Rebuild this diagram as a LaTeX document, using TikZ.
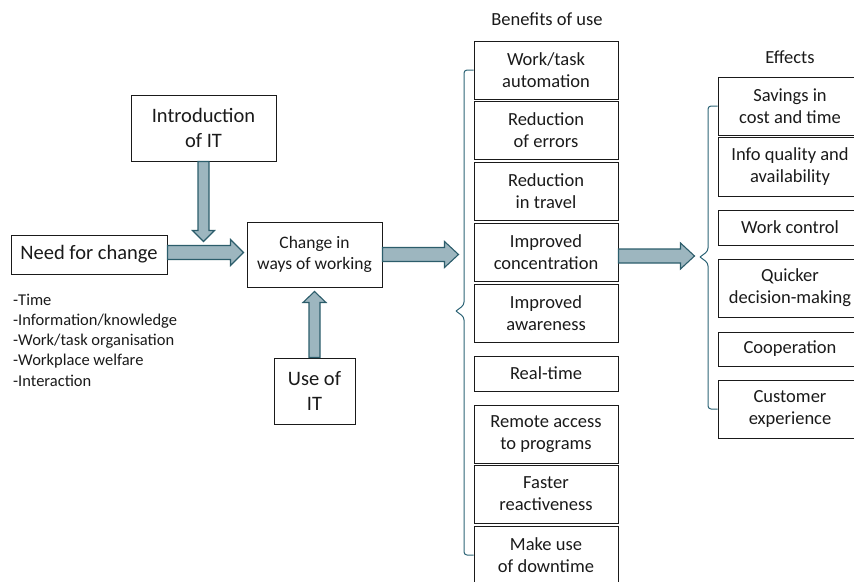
\documentclass[tikz,border=0pt]{standalone}
\usepackage{fontspec}
\setmainfont{Carlito}
\usetikzlibrary{calc}
\definecolor{arrowfill}{HTML}{9DB6BF}
\definecolor{arrowedge}{HTML}{2C5D6B}
\definecolor{bracecol}{HTML}{2E6577}
\definecolor{ink}{HTML}{1A1A1A}
% box with corners (x1,y1)-(x2,y2), in pixel-like units
\newcommand{\bx}[7][]{%
  \node[box, #1, minimum width={(#5-#3)*1pt}, minimum height={(#6-#4)*1pt}]
    (#2) at ({(#3+#5)/2},{(#4+#6)/2}) {#7};}
\begin{document}
\begin{tikzpicture}[x=1pt, y=-1pt,
  box/.style={draw=ink, line width=1pt, inner sep=0pt, align=center, text=ink},
  big/.style={font=\fontsize{20.5}{24.5}\selectfont},
  mid/.style={font=\fontsize{18.5}{22}\selectfont},
  small/.style={font=\fontsize{17.5}{21}\selectfont},
  fat/.style={draw=arrowedge, fill=arrowfill, line width=1.1pt, line join=miter},
  brace/.style={draw=bracecol, line width=1pt, rounded corners=3pt}]
\useasboundingbox (0,0) rectangle (854,581);

% left part
\bx[big]{intro}{131}{95}{276}{161}{Introduction\\of IT}
\bx[big]{need}{11}{235}{167}{274}{Need for change}
\bx[small]{change}{247}{222}{382}{287}{Change in\\ways of working}
\bx[big]{use}{274}{358}{355}{424}{Use of\\IT}
\node[anchor=west, align=left, inner sep=0pt, text=ink,
  font=\fontsize{16.5}{20.2}\selectfont] (list) at (13,340)
  {-Time\\-Information/knowledge\\-Work/task organisation\\-Workplace welfare\\-Interaction};

% benefits column
\node[mid, text=ink] (bentitle) at (547,19) {Benefits of use};
\bx[mid]{b1}{474}{41}{618}{99}{Work/task\\automation}
\bx[mid]{b2}{474}{101}{618}{159}{Reduction\\of errors}
\bx[mid]{b3}{474}{162}{618}{220}{Reduction\\in travel}
\bx[mid]{b4}{474}{223}{618}{281}{Improved\\concentration}
\bx[mid]{b5}{474}{284}{618}{342}{Improved\\awareness}
\bx[mid]{b6}{474}{356}{618}{391}{Real-time}
\bx[mid]{b7}{474}{405}{618}{463}{Remote access\\to programs}
\bx[mid]{b8}{474}{465}{618}{523}{Faster\\reactiveness}
\bx[mid]{b9}{474}{526}{618}{584}{Make use\\of downtime}

% effects column
\node[mid, text=ink] (efftitle) at (790,57) {Effects};
\bx[mid]{e1}{718}{77}{862}{135}{Savings in\\cost and time}
\bx[mid]{e2}{718}{137}{862}{196}{Info quality and\\availability}
\bx[mid]{e3}{718}{210}{862}{245}{Work control}
\bx[mid]{e4}{718}{259}{862}{317}{Quicker\\decision-making}
\bx[mid]{e5}{718}{332}{862}{366}{Cooperation}
\bx[mid]{e6}{718}{380}{862}{438}{Customer\\experience}

% block arrows (vertical: shaft 11, head 23 wide; horizontal: shaft 14, head 26 wide)
\draw[fat] (intro.south) ++(-5.5,0) -- ++(0,69) -- ++(-5.5,0) -- ++(11,11)
  -- ++(11,-11) -- ++(-5.5,0) -- ++(0,-69) -- cycle;
\draw[fat] (use.north) ++(-5.5,0) -- ++(0,-55) -- ++(-6,0) -- ++(11.5,-11)
  -- ++(11.5,11) -- ++(-6,0) -- ++(0,55) -- cycle;
\draw[fat] ($(need.east)+(0,-2)$) ++(0,-7) -- ++(63,0) -- ++(0,-6) -- ++(13,13)
  -- ++(-13,13) -- ++(0,-6) -- ++(-63,0) -- cycle;
\draw[fat] (change.east) ++(0,-7) -- ++(62,0) -- ++(0,-6) -- ++(14,13)
  -- ++(-14,13) -- ++(0,-6) -- ++(-62,0) -- cycle;
\draw[fat] ($(b4.east)+(0,4)$) ++(0,-7) -- ++(62,0) -- ++(0,-6) -- ++(14,13)
  -- ++(-14,13) -- ++(0,-6) -- ++(-62,0) -- cycle;

% grouping brackets
\draw[brace] (b1.west) -| (464,305) -- (456,311);
\draw[brace] (456,311) -- (464,317) |- (b9.west);
\draw[brace] (e1.west) -| (708,251) -- (700,257);
\draw[brace] (700,257) -- (708,263) |- (e6.west);
\end{tikzpicture}
\end{document}
